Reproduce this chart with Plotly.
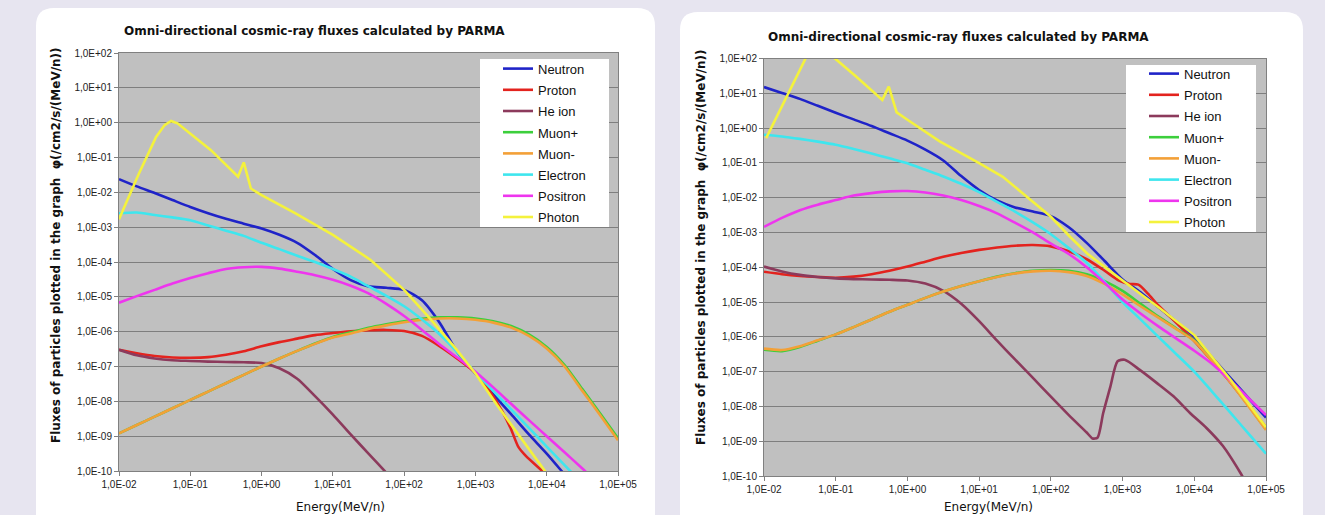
import plotly.graph_objects as go

W, H = 1325, 515

# ---------------------------------------------------------------------------
# DATA  (stored as log10 of energy / flux)
# ---------------------------------------------------------------------------
ENERGY_GRID_LOG10 = [-2.0, -1.75, -1.5, -1.25, -1.0, -0.75, -0.5, -0.25, 0.0, 0.25, 0.5, 0.75,
                     1.0, 1.25, 1.5, 1.75, 2.0, 2.25, 2.5, 2.75, 3.0, 3.25, 3.5, 3.75,
                     4.0, 4.25, 4.5, 4.75, 5.0]

# ---- left panel ----
L_NEUTRON = [-1.62, -1.83, -2.02, -2.22, -2.42, -2.6, -2.76, -2.9, -3.04, -3.22, -3.45, -3.8,
             -4.2, -4.52, -4.7, -4.74, -4.8, -5.1, -5.75, -6.6, -7.2, -7.8, -8.37, -8.95,
             -9.5, -10.1, -10.7]
L_PROTON_E = [-2.0, -1.75, -1.5, -1.25, -1.0, -0.75, -0.5, -0.25, 0.0, 0.25, 0.5, 0.75, 1.0, 1.25,
              1.5, 1.75, 2.0, 2.25, 2.5, 2.75, 3.0, 3.2, 3.38, 3.5, 3.6, 3.7, 3.95, 4.05]
L_PROTON = [-6.52, -6.62, -6.7, -6.74, -6.75, -6.73, -6.66, -6.56, -6.42, -6.3, -6.2, -6.1, -6.04,
            -5.99, -5.96, -5.95, -5.98, -6.12, -6.42, -6.78, -7.18, -7.7, -8.3, -8.8, -9.3, -9.55,
            -10.02, -10.2]
L_HE = [-6.52, -6.68, -6.77, -6.82, -6.84, -6.86, -6.87, -6.88, -6.9, -7.05, -7.35, -7.85,
        -8.38, -8.95, -9.5, -10.05, -10.6]
L_MUON_PLUS = [-8.92, -8.68, -8.44, -8.2, -7.96, -7.72, -7.48, -7.24, -7.0, -6.77, -6.55, -6.34,
               -6.15, -6.02, -5.89, -5.79, -5.7, -5.63, -5.59, -5.59, -5.62, -5.7, -5.84, -6.08,
               -6.44, -6.96, -7.65, -8.35, -9.06]
L_MUON_MINUS = [-8.92, -8.68, -8.44, -8.2, -7.96, -7.72, -7.48, -7.24, -7.0, -6.77, -6.55, -6.35,
                -6.17, -6.05, -5.92, -5.82, -5.73, -5.66, -5.62, -5.62, -5.66, -5.74, -5.88, -6.12,
                -6.48, -7.0, -7.7, -8.4, -9.12]
L_ELECTRON = [-2.6, -2.58, -2.65, -2.72, -2.8, -2.95, -3.1, -3.25, -3.45, -3.63, -3.82, -4.0,
              -4.2, -4.42, -4.7, -4.97, -5.27, -5.65, -6.08, -6.6, -7.17, -7.7, -8.23, -8.76,
              -9.3, -9.83, -10.36]
L_POSITRON = [-5.17, -4.98, -4.8, -4.62, -4.46, -4.32, -4.2, -4.15, -4.14, -4.19, -4.28, -4.38,
              -4.51, -4.68, -4.9, -5.2, -5.55, -5.95, -6.37, -6.75, -7.15, -7.6, -8.07, -8.54,
              -9.0, -9.46, -9.93, -10.4]
L_PHOTON_E = [-2.0, -1.72, -1.48, -1.36, -1.27, -1.18, -0.71, -0.33, -0.25, -0.15, 0.0, 0.47,
              1.0, 1.53, 2.0, 2.36, 2.71, 3.0, 3.3, 3.6, 3.97, 4.1]
L_PHOTON = [-2.77, -1.46, -0.41, -0.07, 0.05, -0.02, -0.79, -1.55, -1.14, -1.89, -2.08, -2.6,
            -3.22, -3.94, -4.8, -5.62, -6.45, -7.2, -8.1, -8.95, -10.0, -10.35]

# ---- right panel ----
R_NEUTRON = [1.18, 1.01, 0.84, 0.64, 0.44, 0.25, 0.06, -0.15, -0.36, -0.62, -0.93, -1.38,
             -1.78, -2.08, -2.28, -2.4, -2.53, -2.85, -3.3, -3.82, -4.35, -4.72, -5.15, -5.57,
             -6.0, -6.6, -7.17, -7.75, -8.32]
R_PROTON_E = [-2.0, -1.75, -1.5, -1.25, -1.0, -0.75, -0.5, -0.25, 0.0, 0.25, 0.5, 0.75, 1.0, 1.25,
              1.5, 1.75, 2.0, 2.25, 2.5, 2.75, 2.95, 3.1, 3.22, 3.35, 3.5, 3.75, 4.0, 4.25, 4.5,
              4.75, 5.0]
R_PROTON = [-4.13, -4.2, -4.25, -4.28, -4.3, -4.27, -4.2, -4.1, -3.98, -3.84, -3.7, -3.59, -3.5,
            -3.43, -3.38, -3.36, -3.4, -3.54, -3.77, -4.1, -4.38, -4.48, -4.5, -4.75, -5.1, -5.6,
            -6.12, -6.7, -7.3, -7.95, -8.6]
R_HE_E = [-2.0, -1.75, -1.5, -1.25, -1.0, -0.75, -0.5, -0.25, 0.0, 0.25, 0.5, 0.75, 1.0, 1.25,
          1.5, 1.75, 2.0, 2.25, 2.5, 2.58, 2.65, 2.73, 2.83, 2.93, 3.03, 3.24, 3.48, 3.71, 3.94,
          4.17, 4.4, 4.64, 4.75]
R_HE = [-3.98, -4.12, -4.22, -4.28, -4.32, -4.34, -4.35, -4.36, -4.38, -4.47, -4.68, -5.05, -5.55,
        -6.11, -6.65, -7.18, -7.72, -8.25, -8.75, -8.92, -8.9, -8.19, -7.43, -6.7, -6.66, -6.95,
        -7.33, -7.71, -8.19, -8.62, -9.14, -9.9, -10.3]
R_MUON_PLUS = [-6.37, -6.41, -6.29, -6.11, -5.93, -5.72, -5.5, -5.28, -5.08, -4.88, -4.7, -4.54,
               -4.4, -4.27, -4.17, -4.1, -4.08, -4.1, -4.2, -4.4, -4.68, -5.05, -5.42, -5.76,
               -6.1, -6.68, -7.28, -7.96, -8.66]
R_MUON_MINUS = [-6.34, -6.38, -6.27, -6.1, -5.93, -5.72, -5.5, -5.28, -5.08, -4.88, -4.7, -4.54,
                -4.4, -4.28, -4.18, -4.12, -4.1, -4.14, -4.25, -4.48, -4.78, -5.12, -5.45, -5.78,
                -6.12, -6.7, -7.3, -7.98, -8.68]
R_ELECTRON = [-0.19, -0.24, -0.31, -0.39, -0.48, -0.6, -0.73, -0.87, -1.01, -1.2, -1.39, -1.6,
              -1.84, -2.12, -2.4, -2.71, -3.05, -3.45, -3.87, -4.42, -5.0, -5.5, -6.0, -6.5,
              -7.0, -7.58, -8.17, -8.77, -9.36]
R_POSITRON = [-2.84, -2.58, -2.36, -2.2, -2.07, -1.94, -1.87, -1.82, -1.81, -1.85, -1.94, -2.07,
              -2.24, -2.45, -2.72, -3.0, -3.32, -3.62, -4.0, -4.45, -4.93, -5.33, -5.7, -6.05,
              -6.4, -6.78, -7.25, -7.75, -8.25]
R_PHOTON_E = [-1.97, -1.42, -1.27, -1.01, -0.72, -0.35, -0.26, -0.15, 0.0, 0.45, 1.0, 1.33, 1.74,
              2.0, 2.27, 2.51, 3.0, 3.5, 4.0, 4.5, 5.0]
R_PHOTON = [-0.29, 2.0, 2.5, 2.0, 1.49, 0.81, 1.19, 0.45, 0.24, -0.38, -1.01, -1.4, -2.1, -2.55,
            -3.13, -3.61, -4.38, -5.15, -5.95, -7.22, -8.6]

SERIES_NAMES = ["Neutron", "Proton", "He ion", "Muon+", "Muon-", "Electron", "Positron", "Photon"]
SERIES_COLORS = ["#1f23c8", "#e3231e", "#8c3a5c", "#3ccf3c", "#f3a037", "#3ee6ee", "#ee35ee",
                 "#f4f23c"]

TITLE = "Omni-directional cosmic-ray fluxes calculated by PARMA"
Y_TITLE = "Fluxes of particles plotted in the graph  \u03c6(/cm2/s/(MeV/n))"
X_TITLE = "Energy(MeV/n)"

Y_TICK_EXP = [2, 1, 0, -1, -2, -3, -4, -5, -6, -7, -8, -9, -10]
Y_TICK_LABELS = ["1,0E+02", "1,0E+01", "1,0E+00", "1,0E-01", "1,0E-02", "1,0E-03", "1,0E-04",
                 "1,0E-05", "1,0E-06", "1,0E-07", "1,0E-08", "1,0E-09", "1,0E-10"]
X_TICK_EXP = [-2, -1, 0, 1, 2, 3, 4, 5]
X_TICK_LABELS = ["1,0E-02", "1,0E-01", "1,0E+00", "1,0E+01", "1,0E+02", "1,0E+03", "1,0E+04",
                 "1,0E+05"]


def lin(values):
    return [10.0 ** v for v in values]


def grid_for(values):
    return ENERGY_GRID_LOG10[:len(values)]


LEFT_SERIES = [
    (grid_for(L_NEUTRON), L_NEUTRON),
    (L_PROTON_E, L_PROTON),
    (grid_for(L_HE), L_HE),
    (grid_for(L_MUON_PLUS), L_MUON_PLUS),
    (grid_for(L_MUON_MINUS), L_MUON_MINUS),
    (grid_for(L_ELECTRON), L_ELECTRON),
    (grid_for(L_POSITRON), L_POSITRON),
    (L_PHOTON_E, L_PHOTON),
]
RIGHT_SERIES = [
    (grid_for(R_NEUTRON), R_NEUTRON),
    (R_PROTON_E, R_PROTON),
    (R_HE_E, R_HE),
    (grid_for(R_MUON_PLUS), R_MUON_PLUS),
    (grid_for(R_MUON_MINUS), R_MUON_MINUS),
    (grid_for(R_ELECTRON), R_ELECTRON),
    (grid_for(R_POSITRON), R_POSITRON),
    (R_PHOTON_E, R_PHOTON),
]

# ---------------------------------------------------------------------------
# LAYOUT GEOMETRY (pixels)
# ---------------------------------------------------------------------------
FONT = "Liberation Sans, Arial, sans-serif"
WIDE_FONT = "DejaVu Sans, Verdana, sans-serif"
BG = "#e7e5f0"
PLOT_BG = "#c0c0c0"
GRID = "#7e7e7e"

PANELS = [
    dict(px0=119, px1=618, py0=53, py1=471, card=(36, 8, 655, 540),
         title=(314, 31), ytitle=(56, 245), xtitle=(340, 507),
         legbox=(480, 59, 609, 227), legorigin=(498, 53)),
    dict(px0=764, px1=1266, py0=58.5, py1=476, card=(680, 12, 1303, 540),
         title=(958, 37), ytitle=(701, 247), xtitle=(988, 507),
         legbox=(1126, 65, 1256, 232), legorigin=(1144, 58)),
]


def fx(x):
    return x / W


def fy(y):
    return 1 - y / H


def rounded_path(x0, y0, x1, y1, r):
    rx, ry = r / W, r / H
    X0, X1, Y0, Y1 = fx(x0), fx(x1), fy(y0), fy(y1)
    return (f"M{X0+rx},{Y0} L{X1-rx},{Y0} Q{X1},{Y0} {X1},{Y0-ry} L{X1},{Y1+ry} "
            f"Q{X1},{Y1} {X1-rx},{Y1} L{X0+rx},{Y1} Q{X0},{Y1} {X0},{Y1+ry} "
            f"L{X0},{Y0-ry} Q{X0},{Y0} {X0+rx},{Y0} Z")


fig = go.Figure()

for pi, series in enumerate([LEFT_SERIES, RIGHT_SERIES]):
    xa = "x" if pi == 0 else "x2"
    ya = "y" if pi == 0 else "y2"
    leg = "legend" if pi == 0 else "legend2"
    for (e_log, f_log), name, color in zip(series, SERIES_NAMES, SERIES_COLORS):
        shape = "linear" if name == "Photon" else "spline"
        fig.add_trace(go.Scatter(
            x=lin(e_log), y=lin(f_log), mode="lines",
            name=f'<span style="font-size:13px">{name}</span>',
            line=dict(color=color, width=2.6, shape=shape, smoothing=0.7),
            xaxis=xa, yaxis=ya, legend=leg, hoverinfo="skip",
        ))

shapes = []
annotations = []
for p in PANELS:
    c = p["card"]
    shapes.append(dict(type="path", xref="paper", yref="paper", layer="below",
                       path=rounded_path(c[0], c[1], c[2], c[3], 18),
                       fillcolor="white", line=dict(width=0)))
for p in PANELS:
    shapes.append(dict(type="rect", xref="paper", yref="paper", layer="below",
                       x0=fx(p["px0"]), x1=fx(p["px1"]), y0=fy(p["py1"]), y1=fy(p["py0"]),
                       fillcolor=PLOT_BG, line=dict(width=0)))
    lb = p["legbox"]
    shapes.append(dict(type="rect", xref="paper", yref="paper", layer="above",
                       x0=fx(lb[0]), x1=fx(lb[2]), y0=fy(lb[3]), y1=fy(lb[1]),
                       fillcolor="white", line=dict(width=0)))
    annotations.append(dict(text=f"<b>{TITLE}</b>", x=fx(p["title"][0]), y=fy(p["title"][1]),
                            xref="paper", yref="paper", showarrow=False,
                            xanchor="center", yanchor="middle",
                            font=dict(family=WIDE_FONT, size=12, color="#111")))
    annotations.append(dict(text=f"<b>{Y_TITLE}</b>", x=fx(p["ytitle"][0]), y=fy(p["ytitle"][1]),
                            xref="paper", yref="paper", showarrow=False, textangle=-90,
                            xanchor="center", yanchor="middle",
                            font=dict(family=WIDE_FONT, size=12, color="#111")))
    annotations.append(dict(text=X_TITLE, x=fx(p["xtitle"][0]), y=fy(p["xtitle"][1]),
                            xref="paper", yref="paper", showarrow=False,
                            xanchor="center", yanchor="middle",
                            font=dict(family=WIDE_FONT, size=12, color="#111")))

axis_common = dict(type="log", showline=True, mirror=True, linecolor="#808080", linewidth=1,
                   ticks="outside", ticklen=4, tickcolor="#808080", zeroline=False,
                   automargin=False,
                   tickfont=dict(family=FONT, size=10, color="#222"))

layout = dict(
    width=W, height=H, autosize=False,
    margin=dict(l=0, r=0, t=0, b=0, pad=0, autoexpand=False),
    paper_bgcolor=BG, plot_bgcolor="rgba(0,0,0,0)",
    shapes=shapes, annotations=annotations,
    font=dict(family=FONT),
)

for i, p in enumerate(PANELS):
    sx = "" if i == 0 else "2"
    layout[f"xaxis{sx}"] = dict(
        axis_common, domain=[fx(p["px0"]), fx(p["px1"])], range=[-2, 5],
        anchor=f"y{sx}", showgrid=False,
        tickvals=lin(X_TICK_EXP), ticktext=X_TICK_LABELS)
    layout[f"yaxis{sx}"] = dict(
        axis_common, domain=[fy(p["py1"]), fy(p["py0"])], range=[-10, 2],
        anchor=f"x{sx}", showgrid=True, gridcolor=GRID, gridwidth=1,
        tickvals=lin(Y_TICK_EXP), ticktext=Y_TICK_LABELS)
    lo = p["legorigin"]
    layout["legend" if i == 0 else "legend2"] = dict(
        x=fx(lo[0]), y=fy(lo[1]), xanchor="left", yanchor="top",
        bgcolor="rgba(0,0,0,0)", borderwidth=0, tracegroupgap=0,
        font=dict(family=FONT, size=14, color="#111"), itemclick=False,
        itemdoubleclick=False)

fig.update_layout(**layout)
fig.write_html(
    "out.html",
    config={"displayModeBar": False, "staticPlot": False},
    post_script=("document.body.style.margin='0px';"
                 "document.body.style.overflow='hidden';"
                 "document.body.style.background='" + BG + "';"),
)
